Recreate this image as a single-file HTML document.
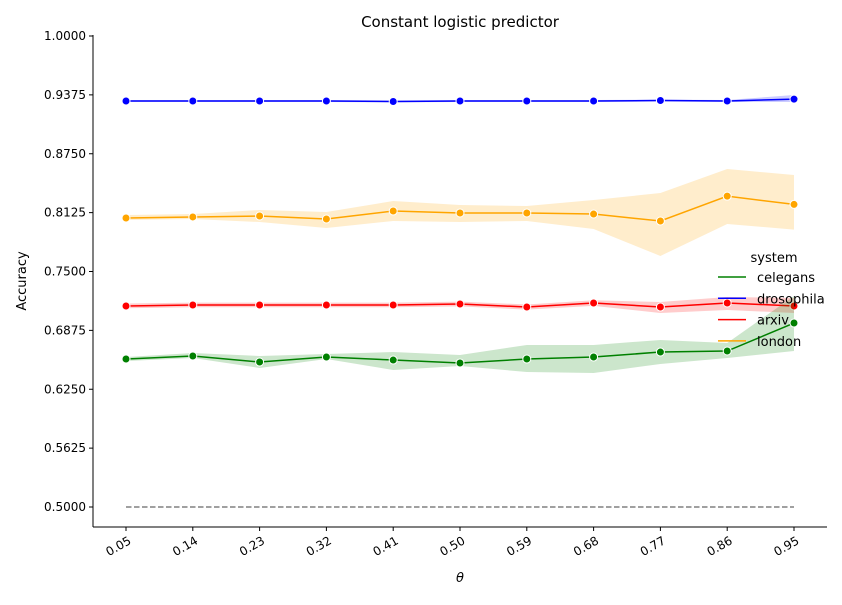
<!DOCTYPE html>
<html><head><meta charset="utf-8"><style>
body{margin:0;background:#fff;font-family:"Liberation Sans","DejaVu Sans",sans-serif}
</style></head><body>
<svg id="c" width="842" height="600" xmlns="http://www.w3.org/2000/svg" font-family="DejaVu Sans, Liberation Sans, sans-serif">
</svg>
<script>
const thetas=["0.05","0.14","0.23","0.32","0.41","0.50","0.59","0.68","0.77","0.86","0.95"];
const yTicks=[0.5,0.5625,0.625,0.6875,0.75,0.8125,0.875,0.9375,1.0];
const drosophila=[0.931,0.931,0.931,0.931,0.9305,0.931,0.931,0.931,0.9315,0.931,0.933];
const drosophilaLo=[0.930,0.930,0.930,0.930,0.9295,0.930,0.930,0.930,0.9305,0.930,0.9299];
const drosophilaHi=[0.932,0.932,0.932,0.932,0.9315,0.932,0.932,0.932,0.9325,0.932,0.9374];
const london=[0.8068,0.8079,0.8089,0.8057,0.8142,0.8121,0.8121,0.811,0.8036,0.830,0.8212];
const londonLo=[0.8047,0.8057,0.8025,0.7962,0.8036,0.8025,0.8036,0.7951,0.7665,0.8004,0.7945];
const londonHi=[0.8100,0.8110,0.8153,0.8132,0.8248,0.8206,0.8195,0.8259,0.8333,0.8588,0.8524];
const arxiv=[0.7134,0.7144,0.7144,0.7144,0.7144,0.7155,0.7123,0.7166,0.7123,0.7166,0.7134];
const arxivLo=[0.7110,0.7120,0.7120,0.7120,0.7120,0.7130,0.7095,0.7135,0.7060,0.7091,0.7060];
const arxivHi=[0.7160,0.7170,0.7170,0.7170,0.7170,0.7180,0.7150,0.7195,0.7176,0.7229,0.7219];
const celegans=[0.6571,0.6603,0.6539,0.6592,0.656,0.6529,0.6571,0.6592,0.6645,0.6656,0.6953];
const celegansLo=[0.655,0.6582,0.6476,0.6571,0.6454,0.6497,0.6433,0.6423,0.6518,0.6582,0.6656];
const celegansHi=[0.6592,0.6635,0.6603,0.6624,0.6645,0.6614,0.672,0.672,0.6773,0.6741,0.724];
const baseline=0.5;

const svg=document.getElementById('c');
const NS="http://www.w3.org/2000/svg";
const X0=126,DX=66.8,L=93,R=827,T=35,B=527;
const xs=i=>X0+i*DX;
const ys=v=>507-(v-0.5)*942;
function mk(t,a,p){const e=document.createElementNS(NS,t);for(const k in a)e.setAttribute(k,a[k]);(p||svg).appendChild(e);return e;}

// title
let e=mk('text',{x:460,y:27,'text-anchor':'middle','font-size':15});e.textContent='Constant logistic predictor';



// axes
e=mk('line',{x1:L,y1:T,x2:L,y2:B,stroke:'#000','stroke-width':1});


e=mk('line',{x1:L,y1:B,x2:R,y2:B,stroke:'#000','stroke-width':1});



yTicks.forEach(v=>{
  const y=ys(v);
  mk('line',{x1:L-4,y1:y,x2:L,y2:y,stroke:'#000'});
  const t=mk('text',{x:L-7,y:y+4,'text-anchor':'end','font-size':12});
  t.textContent=v.toFixed(4);
  
  
});
thetas.forEach((s,i)=>{
  const x=xs(i);
  mk('line',{x1:x,y1:B,x2:x,y2:B+4,stroke:'#000'});
  const t=mk('text',{x:x+6,y:B+16,'text-anchor':'end','font-size':12,transform:`rotate(-30 ${x+6} ${B+16})`});
  t.textContent=s;
  
  
});
e=mk('text',{x:460,y:582,'text-anchor':'middle','font-size':13,'font-style':'italic'});e.textContent='θ';


e=mk('text',{x:26,y:281,'text-anchor':'middle','font-size':13,transform:'rotate(-90 26 281)'});e.textContent='Accuracy';



// baseline
e=mk('line',{x1:xs(0),y1:ys(baseline),x2:xs(10),y2:ys(baseline),stroke:'#808080','stroke-width':1.5,'stroke-dasharray':'5.5,2.5'});



function series(name,vals,lo,hi,col){
  let d='';
  hi.forEach((v,i)=>d+=(i?'L':'M')+xs(i)+','+ys(v));
  for(let i=lo.length-1;i>=0;i--)d+='L'+xs(i)+','+ys(lo[i]);
  const b=mk('path',{d:d+'Z',fill:col,'fill-opacity':0.2,stroke:'none'});
  
  
  const l=mk('polyline',{points:vals.map((v,i)=>xs(i)+','+ys(v)).join(' '),fill:'none',stroke:col,'stroke-width':1.5});
  
  
  vals.forEach((v,i)=>{
    const c=mk('circle',{cx:xs(i),cy:ys(v),r:4,fill:col,stroke:'#fff','stroke-width':1});
    
    
  });
}
series('drosophila',drosophila,drosophilaLo,drosophilaHi,'#0000ff');
series('london',london,londonLo,londonHi,'#ffa500');
series('arxiv',arxiv,arxivLo,arxivHi,'#ff0000');
series('celegans',celegans,celegansLo,celegansHi,'#008000');

// legend
const lg=mk('g',{});


e=mk('text',{x:774,y:262,'text-anchor':'middle','font-size':13},lg);e.textContent='system';


[['celegans','#008000'],['drosophila','#0000ff'],['arxiv','#ff0000'],['london','#ffa500']].forEach((p,i)=>{
  const y=277+i*21.3;
  const g=mk('g',{},lg);
  
  
  mk('line',{x1:718,y1:y,x2:746,y2:y,stroke:p[1],'stroke-width':1.5},g);
  const t=mk('text',{x:757,y:y+5,'font-size':13},g);t.textContent=p[0];
});
</script>
</body></html>
